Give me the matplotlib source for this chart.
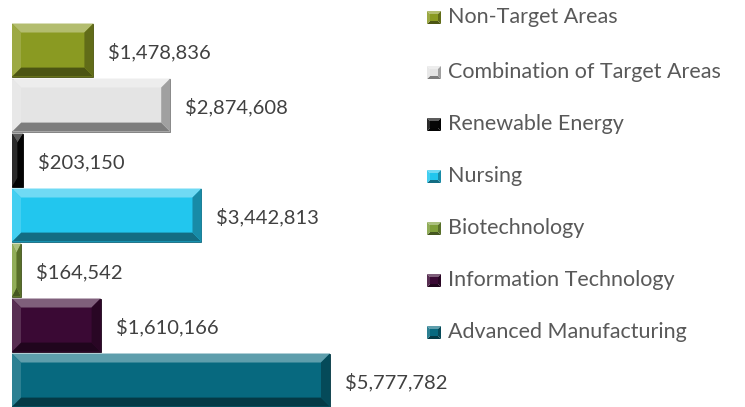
import numpy as np
import matplotlib
matplotlib.use('Agg')
import matplotlib.pyplot as plt
from matplotlib.patches import Polygon
from matplotlib.colors import to_rgb

# data, listed top to bottom as in the chart
names = ['Non-Target Areas', 'Combination of Target Areas', 'Renewable Energy',
         'Nursing', 'Biotechnology', 'Information Technology', 'Advanced Manufacturing']
values = [1478836, 2874608, 203150, 3442813, 164542, 1610166, 5777782]
colors = ['#8A9A22', '#E4E4E4', '#050505', '#22C6EE', '#7E9E3A', '#3A0934', '#07697F']

W, H = 745, 407
fig = plt.figure(figsize=(W / 100, H / 100), dpi=100)
plt.rcParams['font.family'] = ['Lato', 'DejaVu Sans']

ax_l, ax_w = 12, 400          # axes in pixels
ax = fig.add_axes([ax_l / W, 0, ax_w / W, 1])
xmax = max(values) * ax_w / 318.0
ax.set_xlim(0, xmax)
ax.set_ylim(-0.49, 6.91)
ax.axis('off')

pitch = 55.0                   # px per category
px_x = xmax / ax_w             # data units per pixel
px_y = 1 / pitch


def shade(c, f):
    c = np.array(to_rgb(c))
    if f > 0:
        return tuple(c + (1 - c) * f)
    return tuple(c * (1 + f))


def bevel(target, x0, x1, y0, y1, bx, by, c, tr=None):
    # four sloped faces round the flat middle
    faces = [
        ([(x0, y1), (x1, y1), (x1 - bx, y1 - by), (x0 + bx, y1 - by)], 0.35),   # top
        ([(x0, y0), (x1, y0), (x1 - bx, y0 + by), (x0 + bx, y0 + by)], -0.45),  # bottom
        ([(x0, y0), (x0, y1), (x0 + bx, y1 - by), (x0 + bx, y0 + by)], 0.15),   # left
        ([(x1, y0), (x1, y1), (x1 - bx, y1 - by), (x1 - bx, y0 + by)], -0.3),   # right
    ]
    for pts, f in faces:
        kw = {} if tr is None else {'transform': tr}
        target.append(Polygon(pts, closed=True, facecolor=shade(c, f), edgecolor='none', **kw))


ypos = np.arange(len(values))[::-1]
bh = 0.965
for y, v, c in zip(ypos, values, colors):
    ax.barh(y, v, height=bh, color=c, edgecolor=shade(c, -0.5), linewidth=0.6)
    b = 9
    bx = min(b * px_x, v / 2)
    by = b * px_y
    polys = []
    bevel(polys, 0, v, y - bh / 2, y + bh / 2, bx, by, c)
    for p in polys:
        ax.add_patch(p)
    ax.text(v + 15 * px_x, y - 0.03, '${:,}'.format(v), va='center', ha='left',
            fontsize=14.5, color='#404040')

# legend
ty = [17, 72, 124, 176, 228, 280, 332]
for n, c, t in zip(names, colors, ty):
    x0, x1 = 427 / W, 441 / W
    y0, y1 = 1 - (t + 7) / H, 1 - (t - 6) / H
    polys = []
    bevel(polys, x0, x1, y0, y1, 3 / W, 3 / H, c, tr=fig.transFigure)
    fig.patches.append(Polygon([(x0 + 3 / W, y0 + 3 / H), (x1 - 3 / W, y0 + 3 / H),
                                (x1 - 3 / W, y1 - 3 / H), (x0 + 3 / W, y1 - 3 / H)],
                               transform=fig.transFigure, facecolor=c, edgecolor='none'))
    fig.patches.extend(polys)
    fig.text(448 / W, 1 - t / H, n, va='center', ha='left', fontsize=15.5, color='#595959')

fig.savefig('out.png', dpi=100)
